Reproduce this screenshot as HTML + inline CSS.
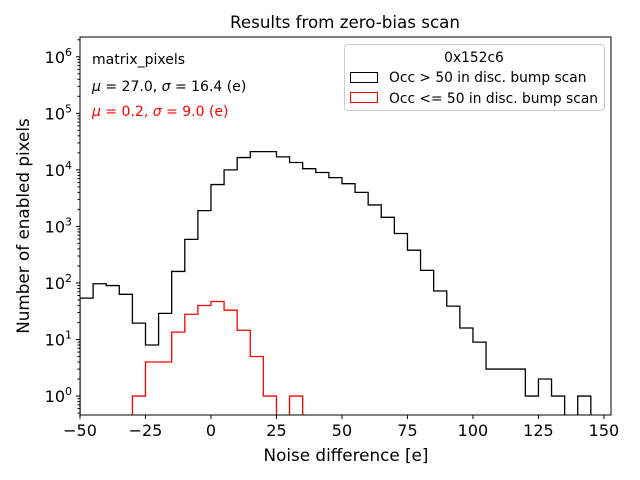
<!DOCTYPE html>
<html><head><meta charset="utf-8"><style>
html,body{margin:0;background:#fff;overflow:hidden;width:640px;height:480px;}
svg{display:block;font-family:"DejaVu Sans","Liberation Sans",sans-serif;}
</style></head><body>
<svg id="chart" width="640" height="480">
<text x="345" y="28" text-anchor="middle" font-size="16.7">Results from zero-bias scan</text>
<text x="346" y="461" text-anchor="middle" font-size="16.8">Noise difference [e]</text>
<text transform="translate(29,226) rotate(-90)" text-anchor="middle" font-size="16.8">Number of enabled pixels</text>
<defs><clipPath id="pc"><rect x="80" y="37" width="531" height="378"/></clipPath></defs>
<g id="marks" clip-path="url(#pc)"></g>
<g id="axes"></g>
<rect x="80" y="37" width="531" height="378" fill="none" stroke="#000" stroke-width="1"/>
<text x="92" y="64" font-size="14">matrix_pixels</text>
<text x="92" y="91" font-size="14"><tspan font-style="italic">μ</tspan> = 27.0, <tspan font-style="italic">σ</tspan> = 16.4 (e)</text>
<text x="92" y="116" font-size="14" fill="#ff0000"><tspan font-style="italic">μ</tspan> = 0.2, <tspan font-style="italic">σ</tspan> = 9.0 (e)</text>
<g>
<rect x="344.5" y="44.5" width="260" height="66" rx="3" fill="#fff" fill-opacity="0.8" stroke="#ccc"/>
<text x="474" y="62" text-anchor="middle" font-size="13.8">0x152c6</text>
<rect x="350.5" y="72.5" width="27" height="10" fill="none" stroke="#000"/>
<text x="389" y="82" font-size="13.8">Occ &gt; 50 in disc. bump scan</text>
<rect x="350.5" y="92.5" width="27" height="10" fill="none" stroke="#ff0000"/>
<text x="389" y="103" font-size="13.8">Occ &lt;= 50 in disc. bump scan</text>
</g>
</svg>
<script>
const binEdgesStart = -50;
const binWidth = 5;
const blackCounts = [54,97,90,63,19.5,8,29,160,590,1900,5500,10000,16500,21000,21000,17000,13500,10500,9000,7300,5700,4000,2400,1450,750,380,167,72,39,16,9,3,3,3,1,2,1,0,1,0];
const redStart = -30;
const redCounts = [1,4,4,13.5,28,40,47,33,14.6,5,1,0,1,0];
const xTicks = [-50,-25,0,25,50,75,100,125,150];
const yTickExps = [0,1,2,3,4,5,6];

const NS="http://www.w3.org/2000/svg";
const X0=80,X1=611,Y0=37,Y1=415;
const xmin=-50,xmax=152.7;
const ymin=-0.335,ymax=6.35;
function xs(v){return X0+(v-xmin)/(xmax-xmin)*(X1-X0);}
function ys(v){const l=v>0?Math.log10(v):-3;return Y1-(l-ymin)/(ymax-ymin)*(Y1-Y0);}
const marks=document.getElementById('marks'),axes=document.getElementById('axes');
function stepPath(start,counts,color,name){
  let d='M'+xs(start)+','+ys(0);
  counts.forEach((c,i)=>{const a=start+i*binWidth;d+=' L'+xs(a)+','+ys(c)+' L'+xs(a+binWidth)+','+ys(c);});
  d+=' L'+xs(start+counts.length*binWidth)+','+ys(0);
  const p=document.createElementNS(NS,'path');
  p.setAttribute('d',d);p.setAttribute('fill','none');p.setAttribute('stroke',color);p.setAttribute('stroke-width','1.3');
  
  
  marks.appendChild(p);
}
stepPath(binEdgesStart,blackCounts,'#000','histogram-black');
stepPath(redStart,redCounts,'#ff0000','histogram-red');
function line(x1,y1,x2,y2){const l=document.createElementNS(NS,'line');l.setAttribute('x1',x1);l.setAttribute('y1',y1);l.setAttribute('x2',x2);l.setAttribute('y2',y2);l.setAttribute('stroke','#000');axes.appendChild(l);return l;}
xTicks.forEach(t=>{
  const x=xs(t);const l=line(x,Y1,x,Y1+4);
  
  
  const tx=document.createElementNS(NS,'text');tx.setAttribute('x',x);tx.setAttribute('y',Y1+21);tx.setAttribute('text-anchor','middle');tx.setAttribute('font-size','16');
  tx.textContent=(t<0?'\u2212'+(-t):String(t));
  
  
  axes.appendChild(tx);
});
for(let e=-1;e<=6;e++){for(let m=2;m<=9;m++){const v=m*Math.pow(10,e);const y=ys(v);if(y<Y0||y>Y1)continue;const l=line(X0-2.5,y,X0,y);
  
  }}
yTickExps.forEach(e=>{
  const y=ys(Math.pow(10,e));const l=line(X0-4,y,X0,y);
  
  
  const tx=document.createElementNS(NS,'text');tx.setAttribute('x',X0-8);tx.setAttribute('y',y+6);tx.setAttribute('text-anchor','end');tx.setAttribute('font-size','16');
  tx.innerHTML='10<tspan font-size="11" dy="-7">'+e+'</tspan>';
  
  
  axes.appendChild(tx);
});
</script>
</body></html>
